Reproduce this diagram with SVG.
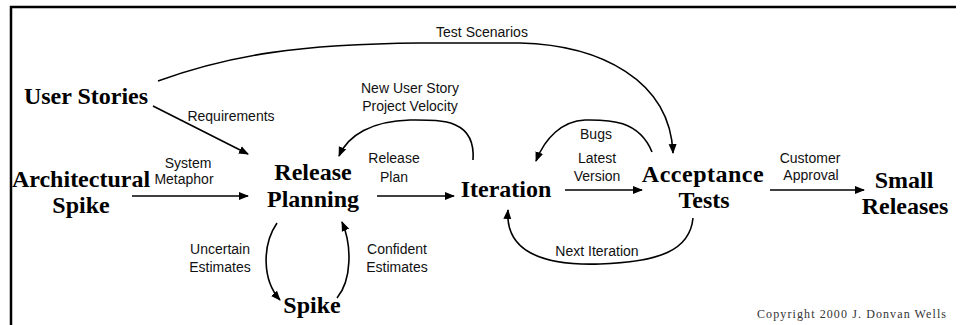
<svg xmlns="http://www.w3.org/2000/svg" width="966" height="325" viewBox="0 0 966 325">
<style>
.node{font-family:"Liberation Serif","Times New Roman",serif;font-weight:bold;font-size:24px;fill:#000;text-anchor:middle}
.lbl{font-family:"Liberation Sans",Arial,sans-serif;font-size:14px;fill:#111;text-anchor:middle}
.copy{font-family:"Liberation Serif","Times New Roman",serif;font-size:12px;fill:#333;letter-spacing:1.1px}
.edge{fill:none;stroke:#000;stroke-width:1.6;marker-end:url(#ah)}
.frame{stroke:#000;stroke-width:2.5;fill:none}
</style>
<defs>
<marker id="ah" viewBox="0 0 10 10" refX="9" refY="5" markerWidth="10" markerHeight="10" markerUnits="userSpaceOnUse" orient="auto">
<path d="M0,1 L10,5 L0,9 Z" fill="#000"/>
</marker>
</defs>
<rect width="966" height="325" fill="#fff"/>
<path class="frame" d="M11,325 L11,7 L956,7"/>

<g id="connectors">
<path class="edge" d="M158,81 C230,55 300,44 420,43 L520,43 C600,45 670,80 673,153"/>
<path class="edge" d="M153,106 L248,154"/>
<path class="edge" d="M132,196 L248,196"/>
<path class="edge" d="M377,196 L454,196"/>
<path class="edge" d="M565,190 L642,190"/>
<path class="edge" d="M770,190 L864,190"/>
<path class="edge" d="M473,160 C476,118 440,120 410,120 C372,121 348,135 339,156"/>
<path class="edge" d="M652,152 C638,118 605,120 585,120 C562,121 545,138 536,161"/>
<path class="edge" d="M693,218 C690,250 660,262 600,264 C540,266 505,250 508,210"/>
<path class="edge" d="M277,223 C262,245 262,280 280,300"/>
<path class="edge" d="M337,298 C352,280 352,245 342,222"/>
</g>

<g id="user-stories"><text class="node" x="86" y="104">User Stories</text></g>
<g id="architectural-spike"><text class="node" x="81" y="187">Architectural</text><text class="node" x="81" y="213">Spike</text></g>
<g id="release-planning"><text class="node" x="313" y="180">Release</text><text class="node" x="313" y="207">Planning</text></g>
<g id="iteration"><text class="node" x="506" y="197">Iteration</text></g>
<g id="acceptance-tests"><text class="node" x="703" y="182" letter-spacing="0.5">Acceptance</text><text class="node" x="704" y="208">Tests</text></g>
<g id="small-releases"><text class="node" x="904" y="188">Small</text><text class="node" x="905" y="214">Releases</text></g>
<g id="spike"><text class="node" x="312" y="313">Spike</text></g>

<g id="labels">
<text class="lbl" x="482" y="37">Test Scenarios</text>
<text class="lbl" x="231" y="121">Requirements</text>
<text class="lbl" x="410" y="93">New User Story</text>
<text class="lbl" x="410" y="111">Project Velocity</text>
<text class="lbl" x="596" y="139">Bugs</text>
<text class="lbl" x="188" y="168">System</text>
<text class="lbl" x="184" y="184">Metaphor</text>
<text class="lbl" x="394" y="163">Release</text>
<text class="lbl" x="394" y="182">Plan</text>
<text class="lbl" x="597" y="163">Latest</text>
<text class="lbl" x="597" y="181">Version</text>
<text class="lbl" x="810" y="163">Customer</text>
<text class="lbl" x="811" y="180">Approval</text>
<text class="lbl" x="220" y="254">Uncertain</text>
<text class="lbl" x="220" y="272">Estimates</text>
<text class="lbl" x="397" y="254">Confident</text>
<text class="lbl" x="397" y="272">Estimates</text>
<text class="lbl" x="597" y="256">Next Iteration</text>
<text class="copy" x="757" y="318">Copyright 2000 J. Donvan Wells</text>
</g>
</svg>
